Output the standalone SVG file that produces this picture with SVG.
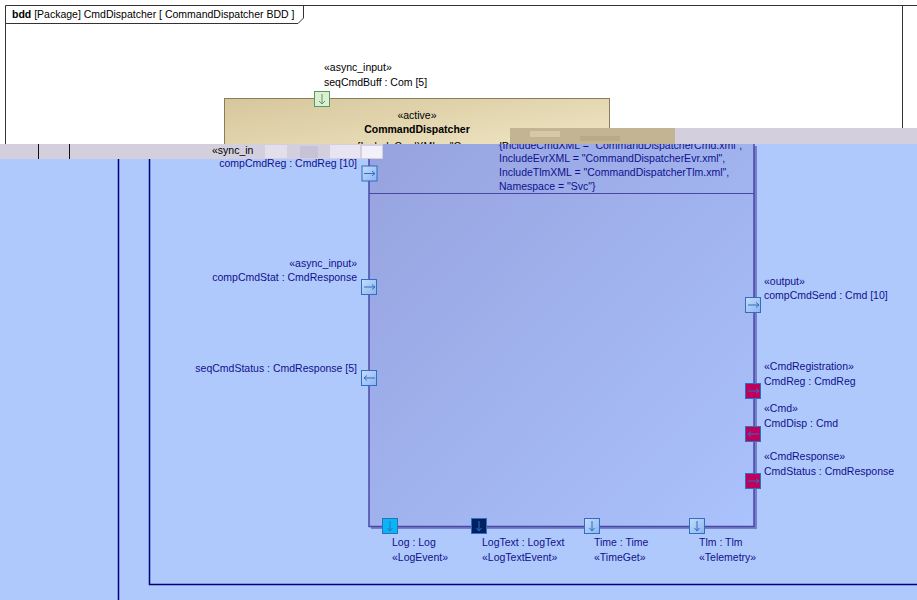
<svg xmlns="http://www.w3.org/2000/svg" width="917" height="600" viewBox="0 0 917 600">
<defs>
<style>
text{font-family:"Liberation Sans",Arial,sans-serif;font-size:10.5px}
.k{fill:#000}
.b{fill:#10108c}
.r{text-anchor:end}
.m{text-anchor:middle}
.port{stroke:#2f6fbf;stroke-width:1}
.arr{stroke:#2f6fbf;stroke-width:1;fill:none}
.nv{stroke:#00007a;stroke-width:1.5;fill:none}
</style>
<linearGradient id="beige" x1="0" y1="0" x2="1" y2="1">
<stop offset="0" stop-color="#d6c69c"/><stop offset="1" stop-color="#f2eac8"/>
</linearGradient>
<linearGradient id="inner" x1="0" y1="0" x2="1" y2="1">
<stop offset="0" stop-color="#96a2de"/><stop offset="1" stop-color="#aac2fd"/>
</linearGradient>
<linearGradient id="pblue" x1="0" y1="0" x2="1" y2="1">
<stop offset="0" stop-color="#c6dcfc"/><stop offset="1" stop-color="#8cb4f0"/>
</linearGradient>
<clipPath id="above"><rect x="0" y="0" width="917" height="144"/></clipPath>
<clipPath id="below"><rect x="0" y="144" width="917" height="456"/></clipPath>
</defs>
<rect width="917" height="600" fill="#fff"/>

<g id="frame">
<path d="M5.5 144 V5.5 H917" fill="none" stroke="#333" stroke-width="1"/>
<path d="M902.5 5.5 V128" fill="none" stroke="#333" stroke-width="1"/>
<path d="M5.5 23.5 H298 L303.5 18 V5.5" fill="none" stroke="#333" stroke-width="1"/>
<text x="12" y="18" class="k" font-size="11px"><tspan font-weight="bold">bdd</tspan> [Package] CmdDispatcher [ CommandDispatcher BDD ]</text>
</g>

<g id="block-top">
<rect x="224.5" y="98.5" width="385" height="60" fill="url(#beige)" stroke="#8c7c5c" stroke-width="1"/>
<text x="417" y="119" class="k m">«active»</text>
<text x="417" y="133" class="k m" font-weight="bold" font-size="11px">CommandDispatcher</text>
<text x="357" y="150" class="k" clip-path="url(#above)">{IncludeCmdXML = "CommandDispatcherCmd.xml",</text>
</g>

<g id="port-seqCmdBuff">
<rect x="314.5" y="91.5" width="15" height="15" fill="#dcefd4" stroke="#5a9a5a"/>
<path d="M322 94 V104 M319 101 L322 104 L325 101" fill="none" stroke="#5a9a5a"/>
<text x="324" y="71" class="k">«async_input»</text>
<text x="324" y="86" class="k">seqCmdBuff : Com [5]</text>
</g>

<rect x="0" y="144" width="917" height="456" fill="#b0c9fc"/>
<g id="inner-block" clip-path="url(#below)">
<rect x="371" y="146" width="386" height="383" fill="#5050a8" opacity="0.6"/>
<rect x="369" y="130" width="385" height="396.5" fill="url(#inner)" stroke="#4848a4" stroke-width="1.5"/>
<line x1="369" y1="193.5" x2="754" y2="193.5" stroke="#4848a4" stroke-width="1"/>
<text x="499" y="149" class="b">{IncludeCmdXML = "CommandDispatcherCmd.xml",</text>
<text x="499" y="162" class="b">IncludeEvrXML = "CommandDispatcherEvr.xml",</text>
<text x="499" y="176" class="b">IncludeTlmXML = "CommandDispatcherTlm.xml",</text>
<text x="499" y="190" class="b">Namespace = "Svc"}</text>
</g>

<g id="glitch">
<rect x="0" y="144" width="383" height="15" fill="#d3cfdc"/>
<rect x="675" y="128" width="242" height="16" fill="#d3cfdc"/>
<rect x="510" y="128" width="165" height="16" fill="#c3b493"/>
<rect x="530" y="131" width="30" height="6" fill="#d6c9a8"/>
<rect x="580" y="136" width="40" height="5" fill="#b8a988"/>
<rect x="265" y="145" width="22" height="13" fill="#e2deea"/>
<rect x="300" y="146" width="18" height="12" fill="#c8c2d6"/>
<rect x="330" y="145" width="30" height="13" fill="#e8e4f2"/>
<rect x="362" y="146" width="20" height="12" fill="#f2f0f8"/>
<line x1="38.5" y1="144" x2="38.5" y2="159" stroke="#111" stroke-width="1"/>
<line x1="69.5" y1="144" x2="69.5" y2="159" stroke="#111" stroke-width="1"/>
<text x="212" y="154" class="k">«sync_in</text>
</g>

<g id="connectors">
<line x1="118.5" y1="159" x2="118.5" y2="600" class="nv"/>
<path d="M149.5 159 V584.5 H917" class="nv"/>
</g>

<g id="port-compCmdReg">
<rect x="362" y="166" width="15" height="15" fill="url(#pblue)" class="port"/>
<path d="M364 173.5 H375 M372 171 L375 173.5 L372 176" class="arr"/>
<text x="357" y="167" class="b r">compCmdReg : CmdReg [10]</text>
</g>
<g id="port-compCmdStat">
<rect x="361.5" y="279.5" width="15" height="15" fill="url(#pblue)" class="port"/>
<path d="M364 287 H375 M372 284.5 L375 287 L372 289.5" class="arr"/>
<text x="357" y="267" class="b r">«async_input»</text>
<text x="357" y="281" class="b r">compCmdStat : CmdResponse</text>
</g>
<g id="port-seqCmdStatus">
<rect x="361.5" y="370.5" width="15" height="15" fill="url(#pblue)" class="port"/>
<path d="M364 378 H375 M367 375.5 L364 378 L367 380.5" class="arr"/>
<text x="357" y="372" class="b r">seqCmdStatus : CmdResponse [5]</text>
</g>

<g id="port-compCmdSend">
<rect x="745.5" y="297.5" width="15" height="15" fill="url(#pblue)" class="port"/>
<path d="M748 305 H759 M756 302.5 L759 305 L756 307.5" class="arr"/>
<text x="764" y="285" class="b">«output»</text>
<text x="764" y="299" class="b">compCmdSend : Cmd [10]</text>
</g>
<g id="port-CmdReg">
<rect x="745.5" y="383.5" width="15" height="15" fill="#bc005c" class="port"/>
<path d="M748 391 H759 M756 388.5 L759 391 L756 393.5" class="arr"/>
<text x="764" y="370" class="b">«CmdRegistration»</text>
<text x="764" y="385" class="b">CmdReg : CmdReg</text>
</g>
<g id="port-CmdDisp">
<rect x="745.5" y="426.5" width="15" height="15" fill="#bc005c" class="port"/>
<path d="M748 434 H759 M751 431.5 L748 434 L751 436.5" class="arr"/>
<text x="764" y="412" class="b">«Cmd»</text>
<text x="764" y="427" class="b">CmdDisp : Cmd</text>
</g>
<g id="port-CmdStatus">
<rect x="745.5" y="473.5" width="15" height="15" fill="#bc005c" class="port"/>
<path d="M748 481 H759 M756 478.5 L759 481 L756 483.5" class="arr"/>
<text x="764" y="460" class="b">«CmdResponse»</text>
<text x="764" y="475" class="b">CmdStatus : CmdResponse</text>
</g>

<g id="port-Log">
<rect x="382.5" y="518.5" width="15" height="15" fill="#08b6f6" class="port"/>
<path d="M390 521 V531 M387.5 528 L390 531 L392.5 528" class="arr"/>
<text x="392" y="546" class="b">Log : Log</text>
<text x="392" y="561" class="b">«LogEvent»</text>
</g>
<g id="port-LogText">
<rect x="471.5" y="518.5" width="15" height="15" fill="#002060" class="port"/>
<path d="M479 521 V531 M476.5 528 L479 531 L481.5 528" class="arr"/>
<text x="482" y="546" class="b">LogText : LogText</text>
<text x="482" y="561" class="b">«LogTextEvent»</text>
</g>
<g id="port-Time">
<rect x="584.5" y="518.5" width="15" height="15" fill="url(#pblue)" class="port"/>
<path d="M592 521 V531 M589.5 528 L592 531 L594.5 528" class="arr"/>
<text x="594" y="546" class="b">Time : Time</text>
<text x="594" y="561" class="b">«TimeGet»</text>
</g>
<g id="port-Tlm">
<rect x="689.5" y="518.5" width="15" height="15" fill="url(#pblue)" class="port"/>
<path d="M697 521 V531 M694.5 528 L697 531 L699.5 528" class="arr"/>
<text x="699" y="546" class="b">Tlm : Tlm</text>
<text x="699" y="561" class="b">«Telemetry»</text>
</g>
</svg>
